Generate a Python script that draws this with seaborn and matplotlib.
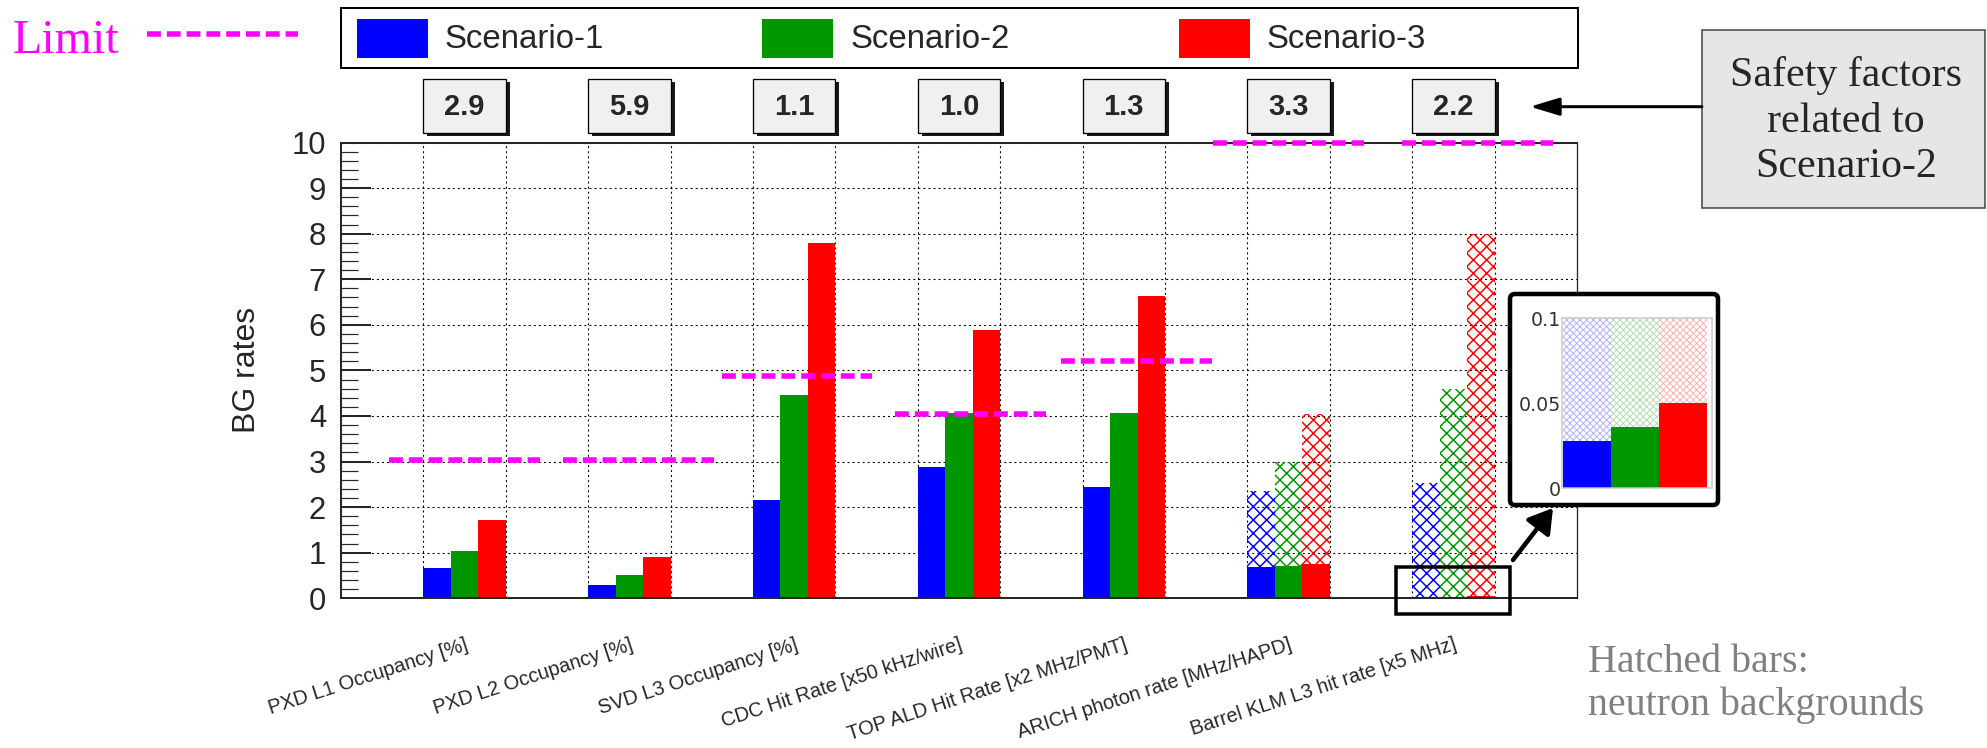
import numpy as np
import pandas as pd
import matplotlib
matplotlib.use("Agg")
import matplotlib.pyplot as plt
import matplotlib.transforms as mtransforms
import matplotlib.patheffects as pe
from matplotlib.patches import Rectangle, FancyBboxPatch, FancyArrowPatch
from matplotlib.lines import Line2D
from matplotlib.ticker import MultipleLocator
import seaborn as sns

# %%
categories = [
    "PXD L1 Occupancy [%]",
    "PXD L2 Occupancy [%]",
    "SVD L3 Occupancy [%]",
    "CDC Hit Rate [x50 kHz/wire]",
    "TOP ALD Hit Rate [x2 MHz/PMT]",
    "ARICH photon rate [MHz/HAPD]",
    "Barrel KLM L3 hit rate [x5 MHz]",
]
scenarios = ["Scenario-1", "Scenario-2", "Scenario-3"]
colors = ["#0000ff", "#009600", "#ff0000"]

# total rate per scenario (ARICH / KLM include neutron part)
rate_s1 = [0.66, 0.29, 2.16, 2.88, 2.45, 2.35, 2.54]
rate_s2 = [1.04, 0.51, 4.45, 4.06, 4.06, 3.00, 4.60]
rate_s3 = [1.71, 0.91, 7.79, 5.89, 6.64, 4.04, 8.00]
# rate without neutrons
nonneutron_s1 = [0.66, 0.29, 2.16, 2.88, 2.45, 0.69, 0.028]
nonneutron_s2 = [1.04, 0.51, 4.45, 4.06, 4.06, 0.71, 0.036]
nonneutron_s3 = [1.71, 0.91, 7.79, 5.89, 6.64, 0.75, 0.050]
has_neutrons = [False, False, False, False, False, True, True]

limits = [3.04, 3.04, 4.87, 4.04, 5.20, 10.0, 10.0]
limit_start = [-0.42, -0.30, -0.38, -0.28, -0.26, -0.42, -0.12]
limit_length = 1.83
safety_factors = ["2.9", "5.9", "1.1", "1.0", "1.3", "3.3", "2.2"]

inset_ticks = [0, 0.05, 0.1]
inset_ticklabels = ["0", "0.05", "0.1"]

# %%
pos = 2 * np.arange(len(categories)) + 0.5
df = pd.DataFrame({
    "pos": np.tile(pos, len(scenarios)),
    "scenario": np.repeat(scenarios, len(categories)),
    "rate": rate_s1 + rate_s2 + rate_s3,
    "nonneutron": nonneutron_s1 + nonneutron_s2 + nonneutron_s3,
    "neutrons": has_neutrons * len(scenarios),
})

# %%
W, H, DPI = 1987, 748, 80


def pt(p):
    # pixels -> points
    return p * 72 / DPI


sns.set_style("ticks")
plt.rcParams["font.family"] = ["Liberation Sans", "DejaVu Sans"]
serif = ["Liberation Serif", "DejaVu Serif"]

fig = plt.figure(figsize=(W / DPI, H / DPI), dpi=DPI)
fig.patch.set_facecolor("white")
# pixel coordinates measured from the top-left corner
px = mtransforms.Affine2D().scale(1 / W, -1 / H).translate(0, 1) + fig.transFigure

ax = fig.add_axes([341 / W, 1 - 598.3 / H, 1236 / W, 455.8 / H])

# hatched bars (neutron backgrounds)
plt.rcParams["hatch.linewidth"] = pt(1.5)
n0 = len(ax.patches)
sns.barplot(
    data=df[df["neutrons"]], x="pos", y="rate", hue="scenario",
    hue_order=scenarios, palette=colors, native_scale=True, width=0.5,
    gap=0, saturation=1, errorbar=None, legend=False, linewidth=0, ax=ax
)
for p in ax.patches[n0:]:
    c = p.get_facecolor()
    p.set_facecolor("none")
    p.set_edgecolor(c)
    p.set_hatch("xx")
    p.set_linewidth(0)

# solid bars
sns.barplot(
    data=df, x="pos", y="nonneutron", hue="scenario",
    hue_order=scenarios, palette=colors, native_scale=True, width=0.5,
    gap=0, saturation=1, errorbar=None, legend=False, linewidth=0, ax=ax
)

ax.set_xlim(-1, 14)
ax.set_ylim(0, 10)
ax.set_axisbelow(True)

ax.set_xticks(pos, categories, rotation=18, ha="right", va="top",
              rotation_mode="anchor", fontsize=pt(20))
ax.set_xticks(np.arange(0, 14), minor=True)
ax.tick_params(axis="x", which="both", length=0, pad=pt(37))
ax.set_yticks(range(0, 11))
ax.yaxis.set_minor_locator(MultipleLocator(0.2))
ax.tick_params(axis="y", which="major", direction="in", length=pt(30),
               width=pt(2), labelsize=pt(31), pad=pt(15))
ax.tick_params(axis="y", which="minor", direction="in", length=pt(16.6),
               width=pt(1.2))
ax.grid(axis="y", which="major", color="k", lw=pt(1.1), linestyle=(0, (1.8, 2.8)))
ax.grid(axis="x", which="minor", color="k", lw=pt(1.1), linestyle=(0, (1.8, 2.8)))
ax.grid(axis="x", which="major", visible=False)

for side in ["left", "bottom", "top"]:
    ax.spines[side].set_linewidth(pt(2))
ax.spines["right"].set_linewidth(pt(1.3))

ax.set_xlabel("")
ax.set_ylabel("BG rates", fontsize=pt(32))
ax.yaxis.set_label_coords(-0.0639, 0.5)

# limits
lim_x0 = 2 * np.arange(len(categories)) + np.array(limit_start)
ax.hlines(limits, lim_x0, lim_x0 + limit_length, colors="#ff00ff",
          lw=pt(5.5), linestyles=[(0, (2.52, 1.08))], clip_on=False, zorder=5)

# zoom marker around KLM base
klm = len(categories) - 1
ax.add_patch(Rectangle((2 * klm - 0.2, -0.34), 1.39, 1.03, fill=False,
                       edgecolor="k", lw=pt(3.5), clip_on=False, zorder=6))

# safety factor boxes
blend = mtransforms.blended_transform_factory(ax.transData, px)
for i, sf in enumerate(safety_factors):
    box = Rectangle((2 * i, 79), 1, 54, transform=blend, facecolor="#f0f0f0",
                    edgecolor="k", lw=pt(1.3),
                    path_effects=[pe.SimplePatchShadow(offset=(pt(4), -pt(3)),
                                                       shadow_rgbFace="k", alpha=0.9),
                                  pe.Normal()])
    fig.add_artist(box)
    fig.text(2 * i + 0.5, 107, sf, transform=blend, ha="center", va="center",
             fontsize=pt(29), fontweight="bold")

# legend
fig.add_artist(Rectangle((341, 8), 1237, 60, transform=px, facecolor="white",
                         edgecolor="k", lw=pt(2)))
for name, col, sx, tx in zip(scenarios, colors, [357, 762, 1179], [445, 851, 1267]):
    fig.add_artist(Rectangle((sx, 19), 71, 39, transform=px, facecolor=col,
                             edgecolor="none"))
    fig.text(tx, 39, name, transform=px, ha="left", va="center", fontsize=pt(33))

# "Limit" key
fig.text(13, 53, "Limit", transform=px, ha="left", va="baseline",
         color="#ff00ff", fontsize=pt(48), family=serif)
fig.add_artist(Line2D([147, 298], [34, 34], transform=px, color="#ff00ff",
                      lw=pt(5.5), dashes=(2.52, 1.08)))

# safety factor note
fig.add_artist(Rectangle((1702, 30), 283, 178, transform=px, facecolor="#e6e6e6",
                         edgecolor="#404040", lw=pt(1.5)))
fig.text(1846, 121, "Safety factors\nrelated to\nScenario-2", transform=px,
         ha="center", va="center", fontsize=pt(42), family=serif,
         linespacing=1.25)
fig.add_artist(FancyArrowPatch((1702, 106.7), (1530, 106.7), transform=px,
                               arrowstyle="-|>,head_length=2.25,head_width=0.68",
                               mutation_scale=10, lw=pt(3), color="k",
                               shrinkA=0, shrinkB=0))

# neutron note (baseline of the last line)
fig.text(1588, 715, "Hatched bars:\nneutron backgrounds", transform=px,
         ha="left", va="baseline", color="#808080", fontsize=pt(40),
         family=serif, linespacing=1.19)

# inset frame and arrow
fig.add_artist(FancyBboxPatch((1510, 294), 208, 211, transform=px,
                              boxstyle="round,pad=0,rounding_size=5",
                              facecolor="white", edgecolor="k", lw=pt(4.5),
                              zorder=2))
fig.add_artist(FancyArrowPatch((1513, 560), (1553, 508), transform=px,
                               arrowstyle="-|>,head_length=0.9,head_width=0.55",
                               mutation_scale=20, lw=pt(4.5), color="k",
                               shrinkA=0, shrinkB=0))

# inset: KLM base
ax_in = fig.add_axes([1561.7 / W, 1 - 488.3 / H, 150.6 / W, 170 / H], zorder=3)
df_klm = df[df["pos"] == pos[klm]]
plt.rcParams["hatch.linewidth"] = pt(1.0)
n0 = len(ax_in.patches)
sns.barplot(data=df_klm, x="scenario", y="rate", hue="scenario",
            hue_order=scenarios, palette=colors, width=1, saturation=1,
            errorbar=None, legend=False, linewidth=0, ax=ax_in)
for p in ax_in.patches[n0:]:
    r, g, b, _ = p.get_facecolor()
    p.set_facecolor("none")
    p.set_edgecolor((r, g, b, 0.3))
    p.set_hatch("xxxx")
    p.set_linewidth(0)
sns.barplot(data=df_klm, x="scenario", y="nonneutron", hue="scenario",
            hue_order=scenarios, palette=colors, width=1, saturation=1,
            errorbar=None, legend=False, linewidth=0, ax=ax_in)
ax_in.set_xlim(-0.52, 2.6)
ax_in.set_ylim(0, 0.1)
ax_in.set_yticks(inset_ticks, inset_ticklabels)
ax_in.set_xticks([])
ax_in.set_xlabel("")
ax_in.set_ylabel("")
ax_in.tick_params(axis="y", length=0, pad=pt(1), labelsize=pt(19),
                  labelcolor="#333333", labelfontfamily="DejaVu Sans")
for s in ax_in.spines.values():
    s.set_color("#c8c8c8")
    s.set_linewidth(pt(1.5))

fig.savefig("out.png", dpi=DPI)
